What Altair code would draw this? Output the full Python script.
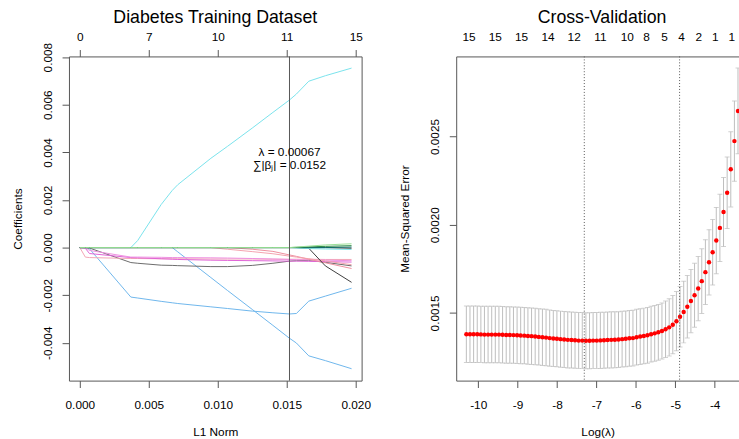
import altair as alt
import pandas as pd

FONT = "Liberation Sans"

# ---------------- Left panel: lasso coefficient paths ----------------
L1_KNOTS = [0.0000, 0.0004, 0.0007, 0.0037, 0.0042, 0.0059, 0.0067, 0.0071, 0.0095,
            0.0107, 0.0125, 0.0140, 0.0152, 0.0157, 0.0166, 0.0178, 0.0197]

COEF_V01 = [0, 0, 0, 0, 0.00030, 0.00181, 0.00240, 0.00264, 0.00375, 0.00425, 0.00502, 0.00568, 0.00620, 0.00645, 0.00699, 0.00722, 0.00754]
COEF_V02 = [0, 0, -0.00005, -0.00208, -0.00212, -0.00226, -0.00232, -0.00235, -0.00249, -0.00256, -0.00267, -0.00274, -0.00279, -0.00277, -0.00225, -0.00204, -0.00171]
COEF_V03 = [0, 0, 0, 0, 0, 0, 0, -0.00018, -0.00126, -0.00180, -0.00260, -0.00327, -0.00381, -0.00401, -0.00455, -0.00475, -0.00509]
COEF_V04 = [0, 0, -0.00002, -0.00063, -0.00066, -0.00074, -0.00075, -0.00076, -0.00080, -0.00080, -0.00075, -0.00066, -0.00057, -0.00055, -0.00054, -0.00062, -0.00077]
COEF_V05 = [0, -0.00040, -0.00042, -0.00046, -0.00046, -0.00047, -0.00047, -0.00047, -0.00048, -0.00048, -0.00048, -0.00049, -0.00049, -0.00049, -0.00049, -0.00050, -0.00050]
COEF_V06 = [0, -0.00003, -0.00025, -0.00042, -0.00043, -0.00047, -0.00049, -0.00050, -0.00053, -0.00054, -0.00055, -0.00056, -0.00057, -0.00057, -0.00058, -0.00059, -0.00061]
COEF_V07 = [0, 0, -0.00012, -0.00040, -0.00040, -0.00041, -0.00042, -0.00042, -0.00043, -0.00044, -0.00046, -0.00048, -0.00050, -0.00051, -0.00052, -0.00053, -0.00055]
COEF_V08 = [0, 0, 0, 0, 0, 0, 0, 0, 0, 0, -0.00007, -0.00016, -0.00031, -0.00037, -0.00049, -0.00064, -0.00088]
COEF_V09 = [0, 0, 0, 0, 0, 0, 0, 0, 0, -0.00007, -0.00017, -0.00026, -0.00036, -0.00040, -0.00047, -0.00056, -0.00072]
COEF_V10 = [0, 0, 0, 0, 0, 0, 0, 0, 0, 0, 0, 0, 0, 0, -0.00003, -0.00077, -0.00146]
COEF_V11 = [0, 0, 0, 0, 0, 0, 0, 0, 0, 0, 0, 0, 0, -0.00002, -0.00004, -0.00006, -0.00008]
COEF_V12 = [0, 0, 0, 0, 0, 0, 0, 0, 0, 0, 0, 0, 0, 0, 0, 0, -0.00003]
COEF_V13 = [0, 0, 0, 0, 0, 0, 0, 0, 0, 0, 0, 0, 0, 0, 0, 0, 0.00002]
COEF_V14 = [0, 0, 0, 0, 0, 0, 0, 0, 0, 0, 0, 0, 0, 0.00001, 0.00003, 0.00005, 0.00008]
COEF_V15 = [0, 0, 0, 0, 0, 0, 0, 0, 0, 0, 0, 0, 0, 0.00002, 0.00006, 0.00011, 0.00016]

VAR_NAMES = ["V01", "V02", "V03", "V04", "V05", "V06", "V07", "V08",
             "V09", "V10", "V11", "V12", "V13", "V14", "V15"]
VAR_COLORS = ["#79E3EC", "#6EB6EC", "#6EB6EC", "#6B6B6B", "#F3A5B5", "#E063D6", "#EE8FE0", "#EE8E9E",
              "#F4A2AE", "#3C3C3C", "#7AE6EA", "#4A4A4A", "#0F6B6B", "#2A8A45", "#9ADF96"]
COEF_PATHS = [COEF_V01, COEF_V02, COEF_V03, COEF_V04, COEF_V05, COEF_V06, COEF_V07, COEF_V08,
              COEF_V09, COEF_V10, COEF_V11, COEF_V12, COEF_V13, COEF_V14, COEF_V15]

TOP_L1 = [0.0, 0.005, 0.010, 0.015, 0.020]
TOP_DF = ["0", "7", "10", "11", "15"]
SEL_L1 = 0.0152
ANN_TEXT = ["λ = 0.00067", "∑|βⱼ| = 0.0152"]
ANN_Y = [0.003996, 0.003458]

# ---------------- Right panel: cross-validation curve ----------------
LOG_LAMBDA = [-10.300, -10.208, -10.116, -10.024, -9.932, -9.841, -9.749, -9.657, -9.565, -9.473,
              -9.381, -9.289, -9.197, -9.105, -9.013, -8.922, -8.830, -8.738, -8.646, -8.554,
              -8.462, -8.370, -8.278, -8.186, -8.094, -8.003, -7.911, -7.819, -7.727, -7.635,
              -7.543, -7.451, -7.359, -7.267, -7.175, -7.084, -6.992, -6.900, -6.808, -6.716,
              -6.624, -6.532, -6.440, -6.348, -6.256, -6.165, -6.073, -5.981, -5.889, -5.797,
              -5.705, -5.613, -5.521, -5.429, -5.337, -5.246, -5.154, -5.062, -4.970, -4.878,
              -4.786, -4.694, -4.602, -4.510, -4.418, -4.327, -4.235, -4.143, -4.051, -3.959,
              -3.867, -3.775, -3.683, -3.591, -3.499, -3.408]
CV_MSE = [0.001379, 0.001379, 0.001379, 0.001379, 0.001378, 0.001377, 0.001377, 0.001377, 0.001377, 0.001377,
          0.001376, 0.001375, 0.001375, 0.001374, 0.001373, 0.001372, 0.001371, 0.001369, 0.001368, 0.001366,
          0.001364, 0.001362, 0.001360, 0.001357, 0.001355, 0.001353, 0.001351, 0.001349, 0.001347, 0.001346,
          0.001345, 0.001343, 0.001343, 0.001342, 0.001342, 0.001343, 0.001343, 0.001344, 0.001345, 0.001346,
          0.001347, 0.001348, 0.001349, 0.001351, 0.001353, 0.001356, 0.001357, 0.001362, 0.001366, 0.001369,
          0.001373, 0.001379, 0.001384, 0.001390, 0.001397, 0.001407, 0.001418, 0.001433, 0.001453, 0.001478,
          0.001505, 0.001535, 0.001567, 0.001600, 0.001638, 0.001680, 0.001731, 0.001787, 0.001844, 0.001910,
          0.001982, 0.002072, 0.002181, 0.002314, 0.002474, 0.002645]
CV_SE = [0.000160, 0.000160, 0.000160, 0.000160, 0.000160, 0.000160, 0.000160, 0.000160, 0.000160, 0.000160,
         0.000160, 0.000160, 0.000160, 0.000160, 0.000160, 0.000160, 0.000160, 0.000160, 0.000160, 0.000160,
         0.000160, 0.000160, 0.000160, 0.000159, 0.000159, 0.000159, 0.000159, 0.000159, 0.000159, 0.000159,
         0.000159, 0.000159, 0.000159, 0.000159, 0.000159, 0.000159, 0.000159, 0.000159, 0.000159, 0.000159,
         0.000159, 0.000159, 0.000158, 0.000158, 0.000158, 0.000158, 0.000158, 0.000158, 0.000158, 0.000158,
         0.000158, 0.000158, 0.000158, 0.000158, 0.000159, 0.000160, 0.000162, 0.000165, 0.000168, 0.000172,
         0.000175, 0.000177, 0.000179, 0.000181, 0.000182, 0.000183, 0.000184, 0.000185, 0.000186, 0.000188,
         0.000191, 0.000196, 0.000203, 0.000213, 0.000228, 0.000243]
DF_POS = [-10.23, -9.565, -8.90, -8.23, -7.565, -6.90, -6.215, -5.73, -5.275, -4.84, -4.40, -3.985, -3.565]
DF_LABELS = ["15", "15", "15", "14", "12", "11", "10", "8", "5", "4", "2", "1", "1"]
LOG_LAMBDA_MIN = -7.308
LOG_LAMBDA_1SE = -4.89

# ---------------- Tables ----------------
coef_rows = []
for name, path in zip(VAR_NAMES, COEF_PATHS):
    for l1, c in zip(L1_KNOTS, path):
        coef_rows.append({"var": name, "l1": l1, "coef": c})
coef_df = pd.DataFrame(coef_rows)
ann_df = pd.DataFrame({"x": [SEL_L1, SEL_L1], "y": ANN_Y, "label": ANN_TEXT})

cv_df = pd.DataFrame({"loglam": LOG_LAMBDA, "mse": CV_MSE, "se": CV_SE})
cv_df["lower"] = cv_df["mse"] - cv_df["se"]
cv_df["upper"] = cv_df["mse"] + cv_df["se"]
df_df = pd.DataFrame({"pos": DF_POS, "lab": DF_LABELS})
vl_df = pd.DataFrame({"loglam": [LOG_LAMBDA_MIN, LOG_LAMBDA_1SE]})

# ---------------- Styling ----------------
AX = dict(domainColor="#555555", tickColor="#555555", labelColor="#000000", titleColor="#000000",
          labelFont=FONT, titleFont=FONT, labelFontSize=12, titleFontSize=12,
          titleFontWeight="normal", grid=False, tickSize=7, labelFlush=False, labelOverlap=False)
MINUS = "\u2212"


def fmt_expr(spec):
    return "replace(format(datum.value, '%s'), '%s', '-')" % (spec, MINUS)


top_expr = ""
for v, lab in zip(TOP_L1, TOP_DF):
    top_expr += "abs(datum.value - %r) < 0.0001 ? '%s' : " % (v, lab)
top_expr += "''"

xs_left = alt.Scale(domain=[-0.000786, 0.020429], nice=False, zero=False)
ys_left = alt.Scale(domain=[-0.00559, 0.00803], nice=False, zero=False)

lines = alt.Chart(coef_df).mark_line(strokeWidth=1).encode(
    x=alt.X("l1:Q", scale=xs_left,
            axis=alt.Axis(orient="bottom", values=TOP_L1, labelExpr=fmt_expr(".3f"),
                          title="L1 Norm", labelPadding=12, titlePadding=17, **AX)),
    y=alt.Y("coef:Q", scale=ys_left,
            axis=alt.Axis(orient="left", values=[-0.004, -0.002, 0.0, 0.002, 0.004, 0.006, 0.008],
                          labelExpr=fmt_expr(".3f"), labelAngle=270, labelAlign="center",
                          labelBaseline="bottom", labelPadding=8, title="Coefficients",
                          titlePadding=17, **AX)),
    color=alt.Color("var:N", scale=alt.Scale(domain=VAR_NAMES, range=VAR_COLORS), legend=None),
)

vline = alt.Chart(pd.DataFrame({"l1": [SEL_L1]})).mark_rule(color="#555555", strokeWidth=1).encode(
    x=alt.X("l1:Q", scale=xs_left,
            axis=alt.Axis(orient="top", values=TOP_L1, labelExpr=top_expr, title=None,
                          labelPadding=6, **AX)),
)

ann = alt.Chart(ann_df).mark_text(font=FONT, fontSize=12, align="center", baseline="middle",
                                   color="#000000").encode(
    x=alt.X("x:Q", scale=xs_left, axis=None),
    y=alt.Y("y:Q", scale=ys_left,
            axis=alt.Axis(orient="right", labels=False, ticks=False, title=None,
                          domainColor="#555555", grid=False)),
    text="label:N",
)

left = alt.layer(lines, vline, ann).resolve_axis(x="independent", y="independent").properties(
    width=297, height=329,
    title=alt.TitleParams("Diabetes Training Dataset", font=FONT, fontSize=18, fontWeight="normal",
                          color="#000000", frame="group", anchor="middle", offset=3.5),
)

xs_r = alt.Scale(domain=[-10.5575, -3.3825], nice=False, zero=False)
ys_r = alt.Scale(domain=[0.001116, 0.002954], nice=False, zero=False)

bars = alt.Chart(cv_df).mark_rule(color="#BDBDBD", strokeWidth=1, clip=True).encode(
    x=alt.X("loglam:Q", scale=xs_r,
            axis=alt.Axis(orient="bottom", values=[-10, -9, -8, -7, -6, -5, -4],
                          labelExpr=fmt_expr("d"), title="Log(λ)", labelPadding=12,
                          titlePadding=17, **AX)),
    y=alt.Y("lower:Q", scale=ys_r,
            axis=alt.Axis(orient="left", values=[0.0015, 0.0020, 0.0025], format=".4f",
                          labelAngle=270, labelAlign="center", labelBaseline="bottom",
                          labelPadding=8, title="Mean-Squared Error", titlePadding=17, **AX)),
    y2="upper:Q",
)
caps_up = alt.Chart(cv_df).mark_tick(color="#BDBDBD", thickness=1, size=5, orient="horizontal",
                                      clip=True).encode(
    x=alt.X("loglam:Q", scale=xs_r, axis=None),
    y=alt.Y("upper:Q", scale=ys_r, axis=None),
)
caps_lo = alt.Chart(cv_df).mark_tick(color="#BDBDBD", thickness=1, size=5, orient="horizontal",
                                      clip=True).encode(
    x=alt.X("loglam:Q", scale=xs_r, axis=None),
    y=alt.Y("lower:Q", scale=ys_r, axis=None),
)
points = alt.Chart(cv_df).mark_circle(color="#FF0000", size=20, opacity=1, clip=True).encode(
    x=alt.X("loglam:Q", scale=xs_r, axis=None),
    y=alt.Y("mse:Q", scale=ys_r, axis=None),
)
dotted = alt.Chart(vl_df).mark_rule(color="#555555", strokeWidth=1, strokeDash=[1, 2]).encode(
    x=alt.X("loglam:Q", scale=xs_r,
            axis=alt.Axis(orient="top", labels=False, ticks=False, title=None,
                          domainColor="#555555", grid=False)),
)
dftext = alt.Chart(df_df).mark_text(font=FONT, fontSize=12, align="center", baseline="alphabetic",
                                     color="#000000").encode(
    x=alt.X("pos:Q", scale=xs_r, axis=None),
    y=alt.value(-16),
    text="lab:N",
)

right = alt.layer(bars, caps_up, caps_lo, points, dotted, dftext).resolve_axis(
    x="independent", y="independent").properties(
    width=287, height=329,
    title=alt.TitleParams("Cross-Validation", font=FONT, fontSize=18, fontWeight="normal",
                          color="#000000", frame="group", anchor="middle", offset=3.5, dx=4.5),
)

chart = alt.hconcat(left, right, spacing=28).properties(
    padding={"left": 11, "top": 6, "right": 0, "bottom": 0},
    background="#FFFFFF",
).configure_view(stroke=None)

chart.save("out.html", embed_options={"renderer": "svg", "actions": False})
